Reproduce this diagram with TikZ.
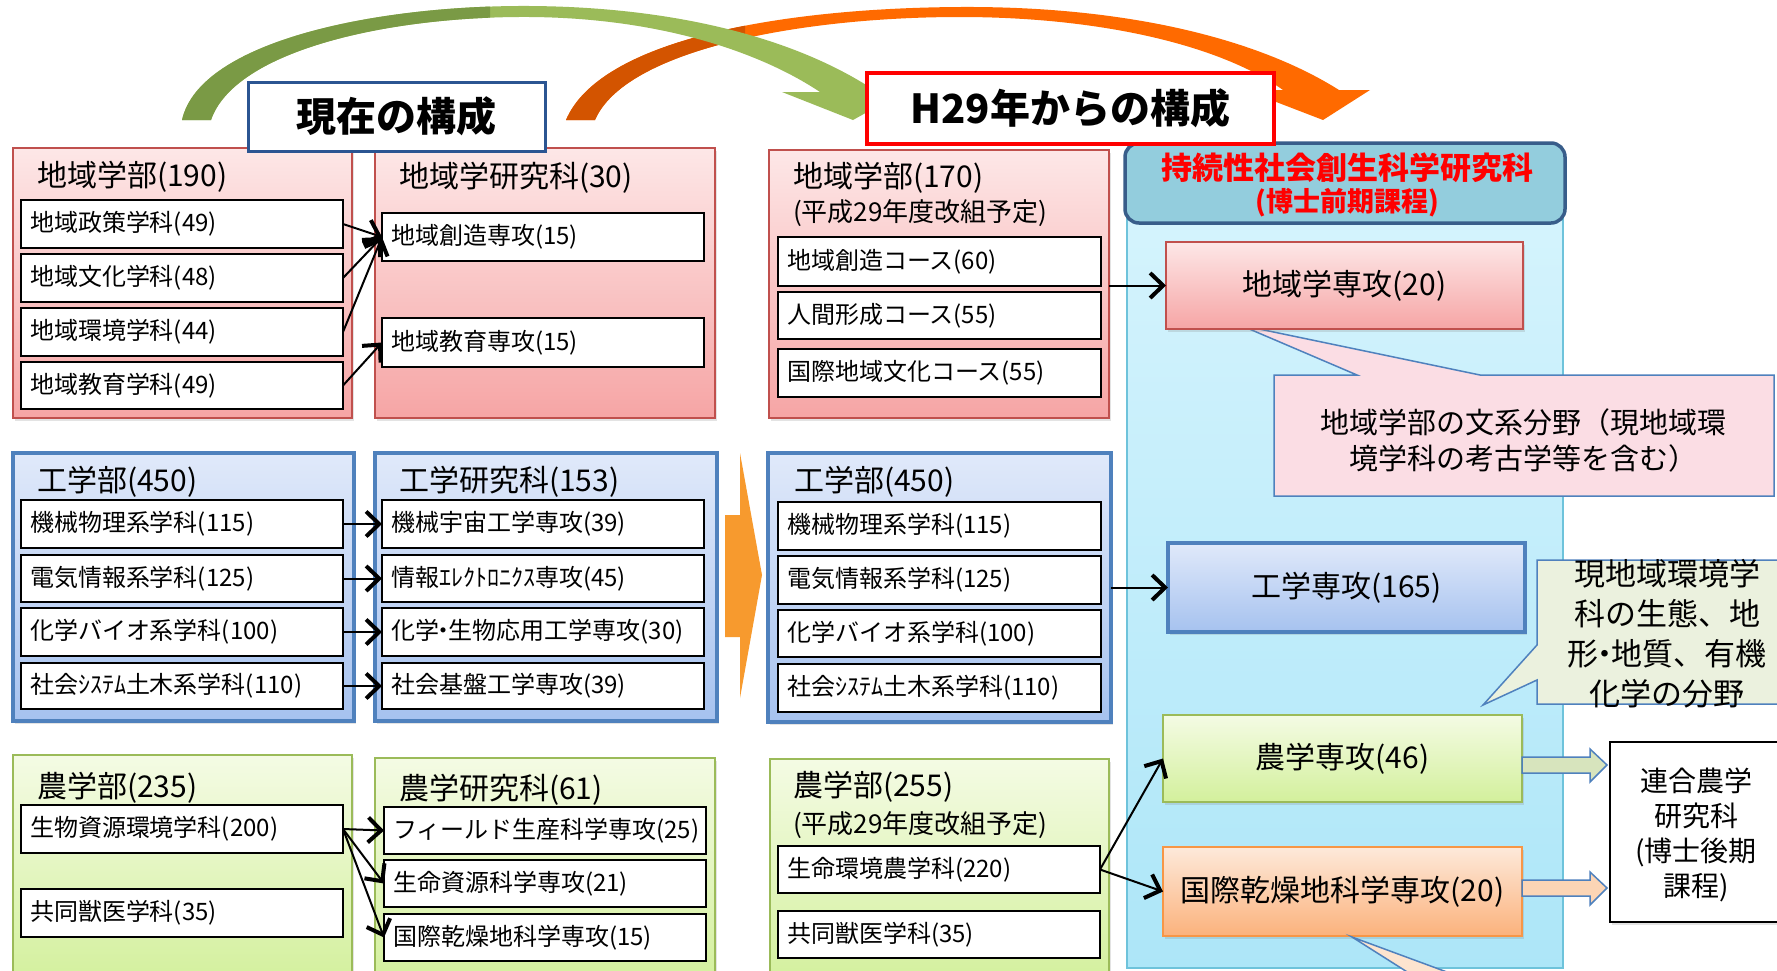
\documentclass[tikz,border=0pt]{standalone}
\usepackage{fontspec}
\newfontfamily\jp{Noto Sans CJK JP}
\usetikzlibrary{arrows.meta,shadows,calc}
\definecolor{zred}{HTML}{C0504D}
\definecolor{pinkT}{HTML}{FDE7E7}
\definecolor{pinkB}{HTML}{F6A5A5}
\definecolor{kblue}{HTML}{4F81BD}
\definecolor{blueT}{HTML}{E0E9FA}
\definecolor{blueB}{HTML}{A6C2EF}
\definecolor{ngreen}{HTML}{9BBB59}
\definecolor{greenT}{HTML}{F4FBE4}
\definecolor{greenB}{HTML}{D3F09C}
\definecolor{oborder}{HTML}{F79646}
\definecolor{orT}{HTML}{FDE9DA}
\definecolor{orB}{HTML}{FBB27C}
\definecolor{cyanT}{HTML}{D6F4FD}
\definecolor{cyanB}{HTML}{ADE6F8}
\definecolor{cyanE}{HTML}{6EC3DB}
\definecolor{hdrF}{HTML}{93CDDD}
\definecolor{hdrE}{HTML}{385D8A}
\definecolor{cpink}{HTML}{FBDDE4}
\definecolor{colive}{HTML}{EBF1DE}
\definecolor{cpeach}{HTML}{FDE4CF}
\definecolor{arrG}{HTML}{D7E4BD}
\definecolor{arrO}{HTML}{FCD5B5}
\definecolor{grD}{HTML}{7A9A45}
\definecolor{grL}{HTML}{9BBB59}
\definecolor{orD}{HTML}{D35400}
\definecolor{orL}{HTML}{FF6A00}
\definecolor{chev}{HTML}{F79A2E}
\definecolor{ttlblue}{HTML}{2B5592}
\newcommand\fsub{\fontsize{24}{28}\selectfont}
\newcommand\fttl{\fontsize{30}{35}\selectfont}
\newcommand\fsubttl{\fontsize{26}{30}\selectfont}
\newcommand\fbig{\fontsize{40}{46}\selectfont}
\newcommand\nd{\kern-0.3em・\kern-0.3em}
\newcommand\mkbox[7]{%
 \pgfmathsetmacro\bxw{#5-#3}\pgfmathsetmacro\bxh{#6-#4}%
 \node[#2, minimum width=\bxw pt, minimum height=\bxh pt, anchor=north west] (#1) at (#3,#4) {#7};}
\newcommand\mksub[6]{%
 \pgfmathsetmacro\bxw{#4-#2}\pgfmathsetmacro\bxh{#5-#3}\pgfmathsetmacro\bxt{#4-#2-18}%
 \node[subbox, text width=\bxt pt, align=left, minimum width=\bxw pt, minimum height=\bxh pt, anchor=north west] (#1) at (#2,#3) {#6};}
\begin{document}
\begin{tikzpicture}[x=1pt,y=-1pt,
 every node/.style={outer sep=0pt, font=\jp},
 shd/.style={drop shadow={shadow xshift=2pt,shadow yshift=-3pt,opacity=0.22}},
 subbox/.style={draw=black, line width=2pt, fill=white, inner xsep=9pt, inner ysep=0pt, font=\jp\fsub},
 zbox/.style={draw=zred, line width=1.8pt, top color=pinkT, bottom color=pinkB, shd},
 kbox/.style={draw=kblue, line width=4pt, top color=blueT, bottom color=blueB, shd},
 nbox/.style={draw=ngreen, line width=1.8pt, top color=greenT, bottom color=greenB, shd},
 obox/.style={draw=oborder, line width=1.8pt, top color=orT, bottom color=orB, shd},
 ttl/.style={font=\jp\fttl, inner sep=0pt, anchor=west},
 sttl/.style={font=\jp\fsubttl, inner sep=0pt, anchor=west},
 conn/.style={line width=2pt, -{Straight Barb[length=13pt,width=25pt,line width=4pt]}},
 barrow/.style={draw=kblue, line width=1.5pt, line join=miter}
]
\useasboundingbox (0,0) rectangle (1777,970);
\fill[white] (0,0) rectangle (1777,970);

% ---------- curved arrows on top ----------
\def\orpath{(566,120) .. controls (600,40) and (780,8) .. (960,7) .. controls (1130,6) and (1260,40) .. (1339,90) -- (1370,90) -- (1323,120) -- (1245,90) -- (1283,90) .. controls (1220,45) and (1100,17) .. (960,17) .. controls (800,17) and (625,50) .. (595,120) -- cycle}
\def\grpath{(182,120) .. controls (200,40) and (380,5) .. (530,6) .. controls (680,7) and (800,40) .. (877,92) -- (903,92) -- (853,120) -- (782,92) -- (820,92) .. controls (760,52) and (660,18) .. (530,17) .. controls (390,16) and (235,50) .. (211,120) -- cycle}
\fill[orL] \orpath;
\begin{scope}\clip (500,0) rectangle (745,125); \fill[orD] \orpath; \end{scope}
\fill[grL] \grpath;
\begin{scope}\clip (150,0) rectangle (490,125); \fill[grD] \grpath; \end{scope}

% ---------- column 1 / 2 : 地域 ----------
\mkbox{A}{zbox}{13}{148}{352}{418}{}
\node[ttl] (At) at (37,177) {地域学部(190)};
\mksub{a1}{21}{200}{343}{248}{地域政策学科(49)}
\mksub{a2}{21}{254}{343}{302}{地域文化学科(48)}
\mksub{a3}{21}{308}{343}{356}{地域環境学科(44)}
\mksub{a4}{21}{362}{343}{409}{地域教育学科(49)}
\mkbox{B}{zbox}{375}{148}{715}{418}{}
\node[ttl] (Bt) at (399,178) {地域学研究科(30)};
\mksub{b1}{382}{213}{704}{261}{地域創造専攻(15)}
\mksub{b2}{382}{318}{704}{367}{地域教育専攻(15)}

% ---------- 工学 ----------
\mkbox{C}{kbox}{13}{453}{354}{721}{}
\node[ttl] (Ct) at (37,482) {工学部(450)};
\mksub{c1}{21}{500}{343}{548}{機械物理系学科(115)}
\mksub{c2}{21}{555}{343}{602}{電気情報系学科(125)}
\mksub{c3}{21}{608}{343}{656}{化学バイオ系学科(100)}
\mksub{c4}{21}{663}{343}{709}{社会ｼｽﾃﾑ土木系学科(110)}
\mkbox{D}{kbox}{375}{453}{717}{721}{}
\node[ttl] (Dt) at (399,482) {工学研究科(153)};
\mksub{d1}{382}{500}{704}{548}{機械宇宙工学専攻(39)}
\mksub{d2}{382}{555}{704}{602}{情報ｴﾚｸﾄﾛﾆｸｽ専攻(45)}
\mksub{d3}{382}{608}{704}{656}{化学\nd 生物応用工学専攻(30)}
\mksub{d4}{382}{663}{704}{709}{社会基盤工学専攻(39)}

% ---------- 農学 ----------
\mkbox{E}{nbox}{13}{755}{352}{985}{}
\node[ttl] (Et) at (37,788) {農学部(235)};
\mksub{e1}{21}{805}{343}{853}{生物資源環境学科(200)}
\mksub{e2}{21}{889}{343}{937}{共同獣医学科(35)}
\mkbox{F}{nbox}{375}{758}{715}{985}{}
\node[ttl] (Ft) at (399,790) {農学研究科(61)};
\mksub{f1}{384}{807}{706}{854}{フィールド生産科学専攻(25)}
\mksub{f2}{384}{860}{706}{907}{生命資源科学専攻(21)}
\mksub{f3}{384}{914}{706}{961}{国際乾燥地科学専攻(15)}

% ---------- chevron ----------
\fill[chev] (725,515) -- (740,515) -- (740,453) -- (762,575) -- (740,698) -- (740,637) -- (725,637) -- cycle;

% ---------- column 3 ----------
\mkbox{G}{zbox}{769}{150}{1109}{418}{}
\node[ttl] (Gt) at (793,178) {地域学部(170)};
\node[sttl] (Gs) at (793,213) {(平成29年度改組予定)};
\mksub{g1}{778}{237}{1101}{286}{地域創造コース(60)}
\mksub{g2}{778}{292}{1101}{339}{人間形成コース(55)}
\mksub{g3}{778}{349}{1101}{397}{国際地域文化コース(55)}

\mkbox{H}{kbox}{768}{453}{1111}{722}{}
\node[ttl] (Ht) at (794,482) {工学部(450)};
\mksub{h1}{778}{502}{1101}{550}{機械物理系学科(115)}
\mksub{h2}{778}{556}{1101}{604}{電気情報系学科(125)}
\mksub{h3}{778}{610}{1101}{657}{化学バイオ系学科(100)}
\mksub{h4}{778}{664}{1101}{712}{社会ｼｽﾃﾑ土木系学科(110)}

\mkbox{I}{nbox}{770}{759}{1109}{985}{}
\node[ttl] (It) at (793,787) {農学部(255)};
\node[sttl] (Is) at (793,825) {(平成29年度改組予定)};
\mksub{i1}{778}{846}{1100}{893}{生命環境農学科(220)}
\mksub{i2}{778}{911}{1100}{958}{共同獣医学科(35)}

% ---------- right region ----------
\mkbox{Q}{draw=cyanE, line width=1.2pt, top color=cyanT, bottom color=cyanB}{1127}{180}{1563}{968}{}
\mkbox{Hd}{draw=hdrE, line width=3.5pt, fill=hdrF, rounded corners=14pt}{1125}{143}{1565}{223}{}
\node[text=red, font=\jp\bfseries\fontsize{31}{34}\selectfont, inner sep=0pt] (Hd1) at (1347,168) {持続性社会創生科学研究科};
\node[text=red, font=\jp\bfseries\fontsize{27}{30}\selectfont, inner sep=0pt] (Hd2) at (1347,203) {(博士前期課程)};

% callout 1
\draw[draw=kblue, line width=1.5pt, fill=cpink] (1274,375) -- (1357,375) -- (1240,325) -- (1480,375) -- (1774,375) -- (1774,496) -- (1274,496) -- cycle;
\node[font=\jp\fontsize{29}{36}\selectfont, align=center, inner sep=0pt] (K1) at (1523,440) {地域学部の文系分野（現地域環\\境学科の考古学等を含む）};

\mkbox{R1}{zbox, font=\jp\fttl}{1166}{242}{1523}{329}{地域学専攻(20)}
\mkbox{R2}{kbox, font=\jp\fttl}{1168}{543}{1525}{632}{工学専攻(165)}
\mkbox{R3}{nbox, font=\jp\fttl}{1163}{715}{1522}{802}{農学専攻(46)}
\mkbox{R4}{obox, font=\jp\fttl}{1163}{847}{1522}{936}{国際乾燥地科学専攻(20)}

% callout 2
\draw[draw=kblue, line width=1.5pt, fill=colive] (1537,560) -- (1800,560) -- (1800,704) -- (1537,704) -- (1537,680) -- (1483,705) -- (1537,645) -- cycle;
\node[font=\jp\fontsize{31}{40}\selectfont, align=center, inner sep=0pt] (K2) at (1667,634) {現地域環境学\\科の生態、地\\形\nd 地質、有機\\化学の分野};

% callout 3 pointer
\draw[draw=kblue, line width=1.5pt, fill=cpeach] (1455,975) -- (1352,937) -- (1412,975);

% block arrows
\draw[barrow, fill=arrG] (1522,757) -- (1590,757) -- (1590,749) -- (1607,765) -- (1590,782) -- (1590,773) -- (1522,773) -- cycle;
\draw[barrow, fill=arrO] (1522,880) -- (1590,880) -- (1590,872) -- (1607,888) -- (1590,905) -- (1590,896) -- (1522,896) -- cycle;

\mkbox{U}{draw=black, line width=2pt, fill=white, shd}{1610}{742}{1800}{922}{}
\node[font=\jp\fontsize{28}{35}\selectfont, align=center, inner sep=0pt] (Ut) at (1696,835) {連合農学\\研究科\\(博士後期\\課程)};

% ---------- title boxes ----------
\mkbox{T1}{draw=ttlblue, line width=3pt, fill=white, font=\jp\bfseries\fbig}{248}{82}{545}{151}{現在の構成}
\mkbox{T2}{draw=red, line width=3.5pt, fill=white, font=\jp\bfseries\fbig}{867}{73}{1274}{144}{H29年からの構成}

% ---------- connectors ----------
\draw[conn] (a1.east) -- (b1.west);
\draw[conn] (a2.east) -- (b1.west);
\draw[conn] (a3.east) -- (b1.west);
\draw[conn] (a4.east) -- (b2.west);
\foreach \i in {1,2,3,4} \draw[conn] (c\i.east) -- (d\i.west);
\draw[conn] (e1.east) -- (f1.west);
\draw[conn] (e1.east) -- (f2.west);
\draw[conn] (e1.east) -- (f3.west);
\draw[conn] (G.east |- R1.west) -- (R1.west);
\draw[conn] (H.east |- R2.west) -- (R2.west);
\draw[conn] (i1.east) -- (R3.west);
\draw[conn] (i1.east) -- (R4.west);
\end{tikzpicture}
\end{document}
